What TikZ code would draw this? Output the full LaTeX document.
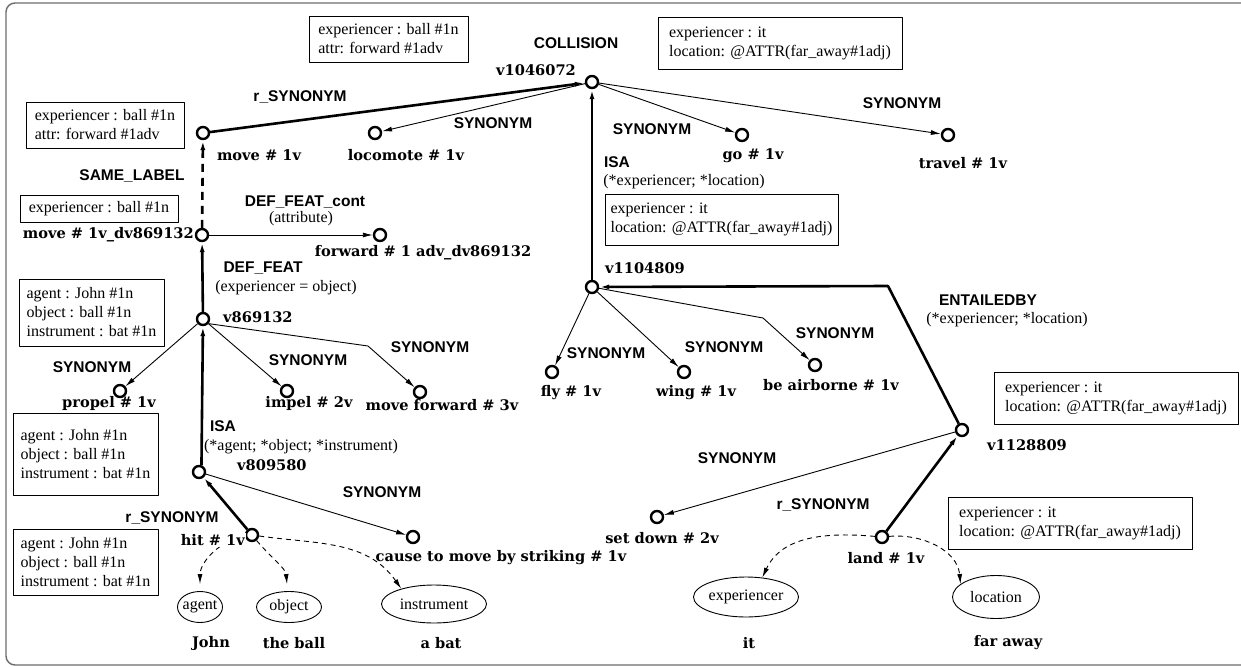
\documentclass[tikz,border=0pt]{standalone}
\usepackage{fontspec}
\setmainfont{Liberation Serif}
\newfontfamily\relfont{Liberation Sans}
\newfontfamily\wordfont{DejaVu Serif}
\usetikzlibrary{arrows.meta, shapes.geometric}

\begin{document}
\begin{tikzpicture}[x=1pt,y=-1pt,>={Latex[length=10pt,width=5pt]},line join=round]
  \tikzstyle{synset}=[circle,draw,line width=2.4pt,minimum size=12pt,inner sep=0pt,fill=white]
  \tikzstyle{word}=[font=\wordfont\bfseries\fontsize{14.6}{17}\selectfont,inner sep=1pt]
  \tikzstyle{rel}=[font=\relfont\bfseries\fontsize{15.5}{18}\selectfont,inner sep=1pt]
  \tikzstyle{gloss}=[font=\fontsize{16}{19}\selectfont,inner sep=1pt]
  \tikzstyle{infobox}=[draw,line width=0.9pt,gloss,align=left,inner sep=0pt]
  \tikzstyle{role}=[ellipse,draw,line width=0.9pt,gloss,inner xsep=-3pt,inner ysep=0pt]
  \tikzstyle{strong}=[line width=2.6pt]
  \tikzstyle{weak}=[line width=0.9pt]
  \tikzstyle{rolelink}=[dash pattern=on 5pt off 4pt]

  \useasboundingbox (0,0) rectangle (1241,666);
  \draw[gray!85!black,line width=1.4pt,rounded corners=9pt] (6,3) rectangle (1262,665);

  % synsets
  \node[synset] (v1046072)  at (592,82)  {};
  \node[synset] (move)      at (203,133) {};
  \node[synset] (locomote)  at (375,133) {};
  \node[synset] (go)        at (742,135) {};
  \node[synset] (travel)    at (948,135) {};
  \node[synset] (move_dv)   at (202,235) {};
  \node[synset] (forward)   at (380,235) {};
  \node[synset] (v869132)   at (203,319) {};
  \node[synset] (propel)    at (120,391) {};
  \node[synset] (impel)     at (287,391) {};
  \node[synset] (move_fwd)  at (420,392) {};
  \node[synset] (v1104809)  at (592,287) {};
  \node[synset] (fly)       at (552,372) {};
  \node[synset] (wing)      at (684,372) {};
  \node[synset] (airborne)  at (815,365) {};
  \node[synset] (v1128809)  at (962,430) {};
  \node[synset] (v809580)   at (199,472) {};
  \node[synset] (hit)       at (252,535) {};
  \node[synset] (cause)     at (413,537) {};
  \node[synset] (set_down)  at (657,517) {};
  \node[synset] (land)      at (882,537) {};

  % roles
  \node[role,minimum width=45,minimum height=31]  (agent)       at (200,607) {agent};
  \node[role,minimum width=65,minimum height=31]  (object)      at (289,607) {object};
  \node[role,minimum width=105,minimum height=38] (instrument)  at (434,604) {instrument};
  \node[role,minimum width=105,minimum height=40] (experiencer) at (746,597) {experiencer};
  \node[role,minimum width=87,minimum height=43]  (location)    at (996,597) {location};

  % boxes
  \node[infobox,minimum width=159,minimum height=46] (f_1)  at (388.5,39)  {experiencer : ball \#1n\\attr: forward \#1adv};
  \node[infobox,minimum width=158,minimum height=46] (f_2)  at (105,125)   {experiencer : ball \#1n\\attr: forward \#1adv};
  \node[infobox,minimum width=158,minimum height=27] (f_3)  at (99,208.5)  {experiencer : ball \#1n};
  \node[infobox,minimum width=244,minimum height=52] (f_4)  at (780,43)    {experiencer : it\\location: @ATTR(far\_away\#1adj)};
  \node[infobox,minimum width=233,minimum height=51] (f_5)  at (721.5,219.5) {experiencer : it\\location: @ATTR(far\_away\#1adj)};
  \node[infobox,minimum width=244,minimum height=52] (f_6)  at (1116,398)   {experiencer : it\\location: @ATTR(far\_away\#1adj)};
  \node[infobox,minimum width=244,minimum height=52] (f_7)  at (1070,523)   {experiencer : it\\location: @ATTR(far\_away\#1adj)};
  \node[infobox,minimum width=145,minimum height=67] (f_8)  at (91.5,312.5) {agent : John \#1n\\object : ball \#1n\\instrument : bat \#1n};
  \node[infobox,minimum width=145,minimum height=82] (f_9)  at (85.5,454)   {agent : John \#1n\\object : ball \#1n\\instrument : bat \#1n};
  \node[infobox,minimum width=145,minimum height=66] (f_10) at (85.5,562)   {agent : John \#1n\\object : ball \#1n\\instrument : bat \#1n};

  % relations
  \coordinate (bend_fwd) at (368,346);
  \coordinate (bend_air) at (763,318);
  \coordinate (bend_ent) at (888,286);

  \path[->,strong]
  (move)        edge (v1046072)
  (v1104809)    edge (v1046072)
  (move_dv)     edge [dash pattern=on 8pt off 6pt] (move)
  (v869132)     edge (move_dv)
  (v809580.70)  edge (v869132)
  (hit)         edge (v809580)
  (land)        edge (v1128809)
  ;
  \draw[->,strong] (v1128809) -- (bend_ent) -- (v1104809);

  \path[->,weak]
  (v1046072) edge (locomote)
  (v1046072) edge (go)
  (v1046072) edge (travel)
  (move_dv)  edge (forward)
  (v869132)  edge (propel)
  (v869132)  edge (impel)
  (v1104809) edge (fly)
  (v1104809) edge (wing)
  (v1128809) edge (set_down)
  (v809580)  edge (cause)
  ;
  \draw[->,weak] (v869132.-40) -- (bend_fwd) -- (move_fwd);
  \draw[->,weak] (v1104809) -- (bend_air) -- (airborne);

  \path[->,weak,rolelink]
  (hit)  edge [out=190,in=90,shorten >=7pt] (agent)
  (hit)  edge [out=-50,in=95,shorten >=7pt] (object.95)
  (hit)  edge [out=-8,in=125]  (instrument.155)
  (land) edge [out=175,in=65]  (experiencer.50)
  (land) edge [out=5,in=95]    (location.160)
  ;

  % relation labels
  \node[rel] (t_coll)  at (576,43)  {COLLISION};
  \node[rel] (t_r1)    at (300,97)  {r\_SYNONYM};
  \node[rel] (t_s1)    at (493,123) {SYNONYM};
  \node[rel] (t_s2)    at (652,129) {SYNONYM};
  \node[rel] (t_s3)    at (902,103) {SYNONYM};
  \node[rel] (t_same)  at (132,176) {SAME\_LABEL};
  \node[rel] (t_dfc)   at (305,202) {DEF\_FEAT\_cont};
  \node[rel] (t_df)    at (263,268) {DEF\_FEAT};
  \node[rel] (t_isa1)  at (617,162) {ISA};
  \node[rel] (t_ent)   at (988,300) {ENTAILEDBY};
  \node[rel] (t_s4)    at (92,367)  {SYNONYM};
  \node[rel] (t_s5)    at (308,360) {SYNONYM};
  \node[rel] (t_s6)    at (430,347) {SYNONYM};
  \node[rel] (t_isa2)  at (223,426) {ISA};
  \node[rel] (t_s7)    at (606,353) {SYNONYM};
  \node[rel] (t_s8)    at (724,347) {SYNONYM};
  \node[rel] (t_s9)    at (835,333) {SYNONYM};
  \node[rel] (t_s10)   at (382,492) {SYNONYM};
  \node[rel] (t_r2)    at (172,518) {r\_SYNONYM};
  \node[rel] (t_s11)   at (737,458) {SYNONYM};
  \node[rel] (t_r3)    at (823,505) {r\_SYNONYM};

  \node[gloss] (g_attr) at (301,219) {(attribute)};
  \node[gloss] (g_eo)   at (286,288) {(experiencer = object)};
  \node[gloss] (g_aoi)  at (301,447) {(*agent; *object; *instrument)};
  \node[gloss] (g_el1)  at (684,182) {(*experiencer; *location)};
  \node[gloss] (g_el2)  at (1007,320) {(*experiencer; *location)};

  % word labels
  \node[word,anchor=east] (w_1046072) at (577,70)  {v1046072};
  \node[word] (w_move)    at (259,155) {move \# 1v};
  \node[word] (w_loco)    at (406,155) {locomote \# 1v};
  \node[word] (w_go)      at (753,156) {go \# 1v};
  \node[word] (w_travel)  at (963,163) {travel \# 1v};
  \node[word,anchor=east] (w_movedv) at (195,235) {move \# 1v\_dv869132};
  \node[word] (w_fwd)     at (423,253) {forward \# 1 adv\_dv869132};
  \node[word,anchor=west] (w_869132)  at (222,317) {v869132};
  \node[word] (w_propel)  at (109,403) {propel \# 1v};
  \node[word] (w_impel)   at (309,403) {impel \# 2v};
  \node[word] (w_mfwd)    at (442,405) {move forward \# 3v};
  \node[word,anchor=west] (w_1104809) at (604,268) {v1104809};
  \node[word] (w_fly)     at (571,393) {fly \# 1v};
  \node[word] (w_wing)    at (696,393) {wing \# 1v};
  \node[word] (w_air)     at (831,385) {be airborne \# 1v};
  \node[word,anchor=west] (w_1128809) at (986,445) {v1128809};
  \node[word,anchor=west] (w_809580)  at (236,465) {v809580};
  \node[word,fill=white,anchor=east]  (w_hit) at (246,540) {hit \# 1v};
  \node[word] (w_cause)   at (501,558) {cause to move by striking \# 1v};
  \node[word] (w_setdn)   at (662,538) {set down \# 2v};
  \node[word] (w_land)    at (886,558) {land \# 1v};
  \node[word] (w_john)    at (211,643) {John};
  \node[word] (w_ball)    at (294,643) {the ball};
  \node[word] (w_bat)     at (441,643) {a bat};
  \node[word] (w_it)      at (749,643) {it};
  \node[word] (w_far)     at (1008,643) {far away};
\end{tikzpicture}
\end{document}
